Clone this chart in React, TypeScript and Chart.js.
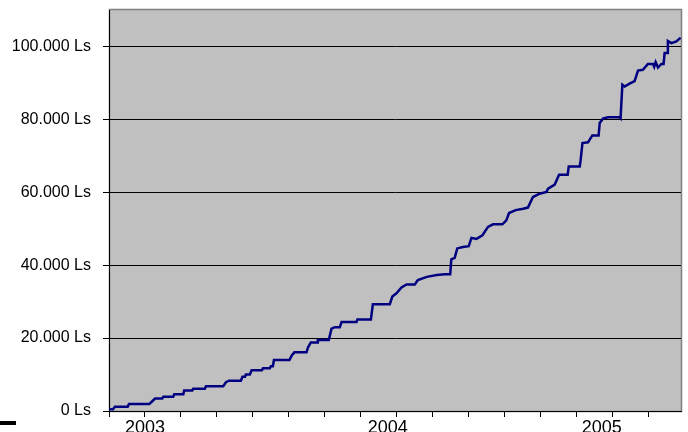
import React, { useEffect, useRef } from 'react';
import { Chart, registerables } from 'chart.js';

Chart.register(...registerables);

// x: months since November 2002
const monthsSinceNov2002 = [
  0, 0.22, 0.33, 1.04, 1.11, 2.24, 2.39, 2.56, 2.96, 3.02,
  3.57, 3.63, 4.13, 4.18, 4.63, 4.68, 5.33, 5.39, 6.35, 6.5,
  6.67, 7.33, 7.42, 7.56, 7.61, 7.83, 7.93, 8.5, 8.56, 8.94,
  9.0, 9.11, 9.17, 10.03, 10.17, 10.31, 10.98, 11.06, 11.22, 11.57,
  11.61, 12.22, 12.37, 12.56, 12.83, 12.93, 13.76, 13.81, 14.56, 14.67,
  15.61, 15.75, 15.98, 16.26, 16.54, 17.0, 17.17, 17.67, 18.22, 18.67,
  18.97, 19.03, 19.22, 19.36, 19.68, 20.0, 20.15, 20.43, 20.76, 21.07,
  21.35, 21.87, 22.09, 22.24, 22.61, 23.02, 23.29, 23.57, 23.94, 24.32,
  24.41, 24.78, 25.02, 25.5, 25.56, 26.17, 26.22, 26.32, 26.63, 26.87,
  27.22, 27.28, 27.46, 27.74, 28.39, 28.44, 28.54, 28.67, 28.94, 29.22,
  29.41, 29.68, 29.96, 30.24, 30.31, 30.39, 30.52, 30.71, 30.83, 30.89,
  31.03, 31.07, 31.26, 31.54, 31.78,
];

const balanceLs = [
  500, 500, 1200, 1200, 1900, 1900, 2600, 3400, 3400, 3900,
  3900, 4600, 4600, 5600, 5600, 6100, 6100, 6800, 6800, 7900,
  8300, 8300, 9400, 9400, 10000, 10000, 11200, 11200, 11700, 11700,
  12300, 12300, 14000, 14000, 15300, 16100, 16100, 17400, 18800, 18800,
  19500, 19500, 22600, 23000, 23000, 24400, 24400, 25100, 25100, 29300,
  29300, 31400, 32300, 33900, 34700, 34700, 35900, 36800, 37300, 37500,
  37500, 41600, 42000, 44600, 45000, 45200, 47500, 47200, 48200, 50500,
  51200, 51200, 52300, 54300, 55100, 55500, 55800, 58700, 59600, 60100,
  61000, 62100, 64800, 64800, 67100, 67100, 68800, 73500, 73700, 75600,
  75600, 79000, 80200, 80600, 80600, 80300, 89500, 89000, 89800, 90500,
  93400, 93600, 95200, 95200, 94400, 95700, 94200, 95200, 95200, 98200,
  98200, 101500, 100900, 101400, 102400,
];

const yTickValues = [0, 20000, 40000, 60000, 80000, 100000];
const xMinorTicks = [0, 2, 4, 6, 8, 10, 12, 14, 16, 18, 20, 22, 24, 26, 28, 30];
const yearLabels = ['2003', '2004', '2005'];
const yearLabelPositions = [2, 15.5, 27.4];
const X_MIN = 0;
const X_MAX = 31.8;
const Y_MIN = 0;
const Y_MAX = 110000;

const FONT = "'Liberation Sans', Arial, sans-serif";

function formatLs(v: number): string {
  return String(Math.round(v)).replace(/\B(?=(\d{3})+(?!\d))/g, '.') + ' Ls';
}

const plotAreaPlugin = {
  id: 'plotArea',
  beforeDraw(chart: any) {
    const { ctx, chartArea } = chart;
    const { left, top, right, bottom } = chartArea;
    ctx.save();
    ctx.fillStyle = '#C0C0C0';
    ctx.fillRect(left, top, right - left, bottom - top);
    ctx.strokeStyle = '#808080';
    ctx.lineWidth = 1.5;
    ctx.strokeRect(left + 0.5, top - 0.5, right - left, bottom - top + 1);
    ctx.restore();
  },
};

export default function App() {
  const canvasRef = useRef<HTMLCanvasElement | null>(null);

  useEffect(() => {
    document.body.style.margin = '0';
    const canvas = canvasRef.current;
    if (!canvas) return;
    const points = monthsSinceNov2002.map((x, i) => ({ x, y: balanceLs[i] }));
    const xTickValues = Array.from(
      new Set([...xMinorTicks, ...yearLabelPositions])
    ).sort((a, b) => a - b);

    const chart = new Chart(canvas, {
      type: 'line',
      data: {
        datasets: [
          {
            data: points,
            borderColor: '#000080',
            borderWidth: 2.5,
            pointRadius: 0,
            tension: 0,
            fill: false,
          },
        ],
      },
      plugins: [plotAreaPlugin],
      options: {
        animation: false,
        responsive: false,
        maintainAspectRatio: false,
        layout: { padding: { top: 10, right: 7, left: 0, bottom: 0 } },
        plugins: {
          legend: { display: false },
          tooltip: { enabled: false },
        },
        scales: {
          x: {
            type: 'linear',
            min: X_MIN,
            max: X_MAX,
            afterBuildTicks: (scale: any) => {
              scale.ticks = xTickValues.map((value) => ({ value }));
            },
            afterFit: (scale: any) => {
              scale.height = 21;
              scale.paddingLeft = 0;
              scale.paddingRight = 0;
            },
            grid: {
              drawOnChartArea: false,
              drawTicks: true,
              tickLength: 6,
              tickWidth: 1,
              tickColor: (ctx: any) => {
                const v = ctx.tick ? ctx.tick.value : null;
                return xMinorTicks.includes(v) ? '#000000' : 'rgba(0,0,0,0)';
              },
            },
            border: { display: true, color: '#000000', width: 1 },
            ticks: {
              autoSkip: false,
              maxRotation: 0,
              minRotation: 0,
              padding: 0,
              color: '#000000',
              font: { family: FONT, size: 18 },
              callback: (value: any) => {
                const idx = yearLabelPositions.indexOf(Number(value));
                return idx >= 0 ? yearLabels[idx] : '';
              },
            },
          },
          y: {
            type: 'linear',
            min: Y_MIN,
            max: Y_MAX,
            afterBuildTicks: (scale: any) => {
              scale.ticks = yTickValues.map((value) => ({ value }));
            },
            afterFit: (scale: any) => {
              scale.width = 109;
              scale.paddingTop = 0;
              scale.paddingBottom = 0;
            },
            grid: {
              color: '#000000',
              lineWidth: 1,
              drawTicks: true,
              tickLength: 6,
              tickColor: '#000000',
            },
            border: { display: true, color: '#000000', width: 1 },
            ticks: {
              padding: 12,
              color: '#000000',
              font: { family: FONT, size: 16 },
              callback: (value: any) => formatLs(Number(value)),
            },
          },
        },
      },
    });
    return () => chart.destroy();
  }, []);

  return (
    <div
      style={{
        position: 'fixed',
        left: 0,
        top: 0,
        width: 688,
        height: 432,
        background: '#ffffff',
        overflow: 'hidden',
      }}
    >
      <canvas ref={canvasRef} width={688} height={432} style={{ display: 'block' }} />
      <div
        style={{
          position: 'absolute',
          left: 0,
          top: 421,
          width: 16,
          height: 4,
          background: '#000000',
        }}
      />
    </div>
  );
}
